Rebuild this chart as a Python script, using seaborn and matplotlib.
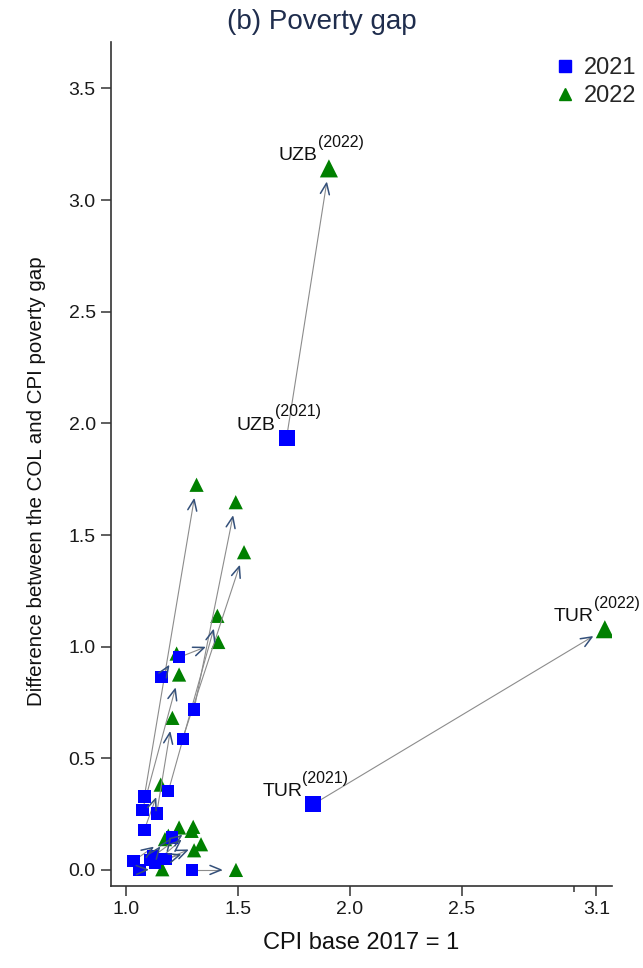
import numpy as np
import pandas as pd
import matplotlib
matplotlib.use("Agg")
import matplotlib.pyplot as plt
from matplotlib.lines import Line2D
import seaborn as sns

# Countries: first two are labelled in the chart, others unlabelled
countries = ['UZB', 'TUR'] + [''] * 18
cpi_2021 = [1.717, 1.836, 1.082, 1.304, 1.253, 1.189, 1.237, 1.159, 1.074, 1.137,
            1.082, 1.296, 1.060, 1.033, 1.107, 1.130, 1.180, 1.204, 1.120, 1.150]
gap_2021 = [1.936, 0.294, 0.329, 0.719, 0.588, 0.352, 0.952, 0.864, 0.270, 0.253,
            0.180, 0.000, 0.000, 0.040, 0.044, 0.033, 0.048, 0.145, 0.060, 0.050]
cpi_2022 = [1.906, 3.138, 1.315, 1.490, 1.527, 1.408, 1.412, 1.226, 1.237, 1.207,
            1.155, 1.491, 1.162, 1.174, 1.189, 1.304, 1.335, 1.237, 1.300, 1.293]
gap_2022 = [3.142, 1.078, 1.725, 1.647, 1.423, 1.138, 1.021, 0.969, 0.875, 0.681,
            0.382, 0.000, 0.003, 0.138, 0.153, 0.088, 0.115, 0.190, 0.193, 0.175]

x_ticks = [1.0, 1.5, 2.0, 2.5, 3.1]
y_ticks = [0.0, 0.5, 1.0, 1.5, 2.0, 2.5, 3.0, 3.5]

sns.set_style('white')
plt.rcParams['font.family'] = ['Liberation Sans', 'DejaVu Sans']

df = pd.concat([
    pd.DataFrame({'country': countries, 'cpi': cpi_2021, 'gap': gap_2021, 'year': 2021}),
    pd.DataFrame({'country': countries, 'cpi': cpi_2022, 'gap': gap_2022, 'year': 2022}),
])
df['big'] = df['country'] != ''

fig = plt.figure(figsize=(6.43, 9.68), dpi=100)
ax = fig.add_axes([111/643, 1-886/968, (612-111)/643, (886-42)/968])
ax.set_xlim(0.933, 3.17)
ax.set_ylim(-0.072, 3.708)

d22 = df[df.year == 2022]
d21 = df[df.year == 2021]
sns.scatterplot(data=d22, x='cpi', y='gap', size='big', sizes={False: 105, True: 170},
                marker='^', color='#008000', edgecolor='none', legend=False, ax=ax, zorder=2)
sns.scatterplot(data=d21, x='cpi', y='gap', size='big', sizes={False: 78, True: 135},
                marker='s', color='#0000ff', edgecolor='none', legend=False, ax=ax, zorder=3)

# arrows from 2021 to 2022, stopping short of the 2022 marker
tr = ax.transData
inv = tr.inverted()
for x0, y0, x1, y1 in zip(cpi_2021, gap_2021, cpi_2022, gap_2022):
    p0 = tr.transform((x0, y0))
    p1 = tr.transform((x1, y1))
    d = p1 - p0
    u = d / np.hypot(*d)
    n = np.array([-u[1], u[0]])
    tip = p1 - u * 15
    line = inv.transform(np.array([p0, tip]))
    ax.plot(line[:, 0], line[:, 1], color='#8c8c8c', lw=0.8, zorder=2.5)
    head = inv.transform(np.array([tip - u * 11 + n * 4.5, tip, tip - u * 11 - n * 4.5]))
    ax.plot(head[:, 0], head[:, 1], color='#34507a', lw=1.1, zorder=4)

# country labels with year superscript
for _, r in df[df.big].iterrows():
    ax.annotate(r['country'], (r['cpi'], r['gap']), xytext=(-8, 9), textcoords='offset points',
                ha='right', va='center', fontsize=14, color='#111111')
    ax.annotate(f"({r['year']})", (r['cpi'], r['gap']), xytext=(-8, 18.5), textcoords='offset points',
                ha='left', va='center', fontsize=11.5, color='#111111')

sns.despine(ax=ax)
for s in ['left', 'bottom']:
    ax.spines[s].set_color('#333333')
    ax.spines[s].set_linewidth(1.2)

ax.set_xticks(x_ticks)
ax.set_xticklabels([f'{v:.1f}' for v in x_ticks])
ax.set_xticks([3.0], minor=True)
ax.set_yticks(y_ticks)
ax.set_yticklabels([f'{v:.1f}' for v in y_ticks])
ax.tick_params(axis='both', which='major', direction='out', length=7, width=1.1,
               color='#333333', labelsize=14, labelcolor='#1a1a1a', pad=4)
ax.tick_params(axis='x', which='minor', direction='out', length=4, width=1.1, color='#333333')
ax.tick_params(bottom=True, left=True)
ax.tick_params(axis='x', which='minor', bottom=True)

ax.set_xlabel('CPI base 2017 = 1', fontsize=17, color='#111111', labelpad=10)
ax.set_ylabel('Difference between the COL and CPI poverty gap', fontsize=14.8,
              color='#111111')
ax.yaxis.set_label_coords(-0.13, 0.48)

fig.text(0.5, 1 - 22/968, '(b) Poverty gap', ha='center', va='center',
         fontsize=20, color='#1f2d4d')

handles = [Line2D([], [], marker='s', color='#0000ff', ls='', markersize=8),
           Line2D([], [], marker='^', color='#008000', ls='', markersize=9)]
fig.legend(handles, ['2021', '2022'], loc='upper right', bbox_to_anchor=(1.005, 1 - 48/968),
           frameon=False, fontsize=17, handletextpad=0.2, labelspacing=0.25,
           handlelength=1.2, borderaxespad=0)

fig.savefig('out.png', dpi=100)
